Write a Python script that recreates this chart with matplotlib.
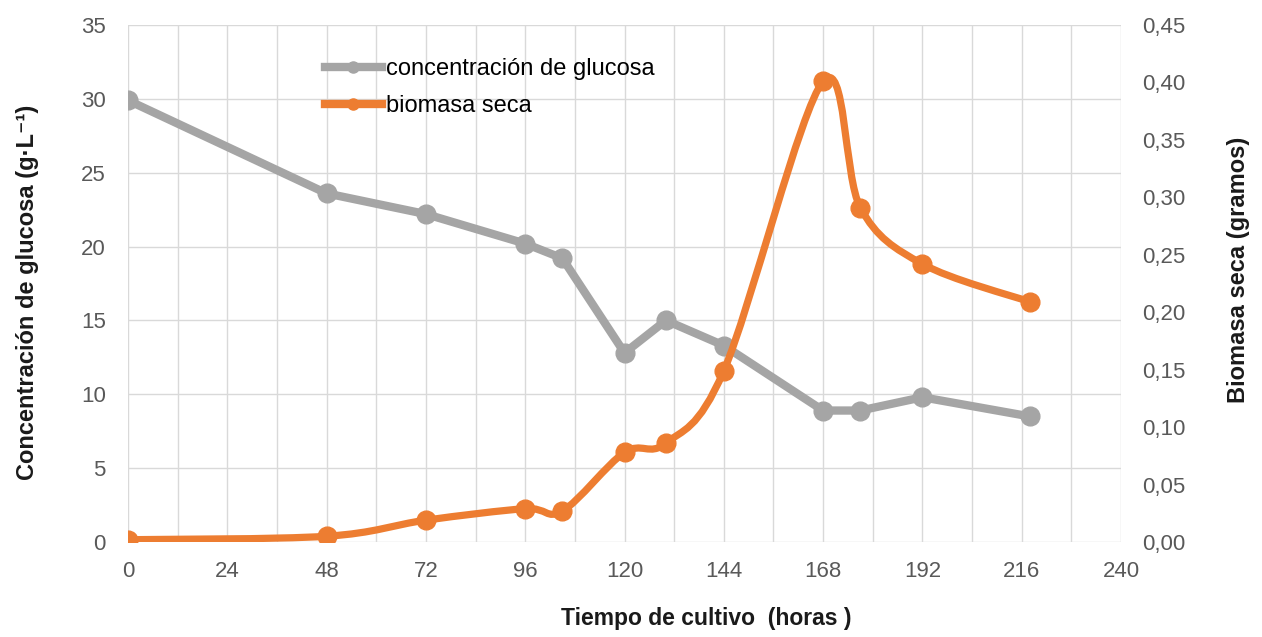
import matplotlib
matplotlib.use("Agg")
import matplotlib.pyplot as plt
from matplotlib.path import Path
from matplotlib.patches import PathPatch
from matplotlib.lines import Line2D
from matplotlib.ticker import MultipleLocator, FuncFormatter

plt.rcParams['font.family'] = ['Liberation Sans', 'DejaVu Sans']

# Data
tiempo = [0, 48, 72, 96, 105, 120, 130, 144, 168, 177, 192, 218]
glucosa = [29.9, 23.6, 22.2, 20.2, 19.2, 12.8, 15.0, 13.3, 8.9, 8.9, 9.8, 8.5]
biomasa = [0.002, 0.005, 0.019, 0.029, 0.027, 0.078, 0.086, 0.149, 0.401, 0.291, 0.242, 0.209]
x_ticks = [0, 24, 48, 72, 96, 120, 144, 168, 192, 216, 240]
label_glu = "concentración de glucosa"
label_bio = "biomasa seca"

GRAY = "#A5A5A5"
ORANGE = "#ED7D31"
GRID = "#D9D9D9"
TICK = "#595959"
LAB = "#1A1A1A"

W, H = 1262, 637
L, R, T, B = 128, 1121, 25, 542
fig = plt.figure(figsize=(W/100, H/100), dpi=100)
ax = fig.add_axes([L/W, 1-B/H, (R-L)/W, (B-T)/H])
ax2 = ax.twinx()

ax.set_xlim(0, 240)
ax.set_ylim(0, 35)
ax2.set_ylim(0, 0.45)

ax.xaxis.set_major_locator(MultipleLocator(24))
ax.xaxis.set_minor_locator(MultipleLocator(12))
ax.yaxis.set_major_locator(MultipleLocator(5))
ax2.yaxis.set_major_locator(MultipleLocator(0.05))
ax2.yaxis.set_major_formatter(FuncFormatter(lambda v, p: f"{v:.2f}".replace(".", ",")))

ax.grid(True, which='both', axis='x', color=GRID, lw=1)
ax.grid(True, which='major', axis='y', color=GRID, lw=1)
ax.set_axisbelow(True)
for a in (ax, ax2):
    for s in a.spines.values():
        s.set_visible(False)
    a.tick_params(which='both', length=0, labelsize=16, labelcolor=TICK)
ax.tick_params(axis='x', pad=14)
ax.tick_params(axis='y', pad=16)
ax2.tick_params(axis='y', pad=15.5)

# glucose (straight segments)
ax.plot(tiempo, glucosa, color=GRAY, lw=6, marker='o', ms=13.5, solid_joinstyle='round',
        solid_capstyle='round', zorder=3)

# biomass smoothed line (Bezier, Excel-like smoothing)
n = len(tiempo)
P = list(zip(tiempo, biomasa))
verts = [P[0]]
codes = [Path.MOVETO]
for i in range(n - 1):
    p0 = P[i - 1] if i > 0 else P[i]
    p1 = P[i]
    p2 = P[i + 1]
    p3 = P[i + 2] if i + 2 < n else P[i + 1]
    c1 = (p1[0] + (p2[0] - p0[0]) / 6, p1[1] + (p2[1] - p0[1]) / 6)
    c2 = (p2[0] - (p3[0] - p1[0]) / 6, p2[1] - (p3[1] - p1[1]) / 6)
    verts += [c1, c2, p2]
    codes += [Path.CURVE4, Path.CURVE4, Path.CURVE4]
patch = PathPatch(Path(verts, codes), facecolor='none', edgecolor=ORANGE, lw=5.2,
                  capstyle='round', joinstyle='round', zorder=3)
ax2.add_patch(patch)
ax2.plot(tiempo, biomasa, ls='none', marker='o', ms=13.5, color=ORANGE, zorder=4)

ax.set_xticks(x_ticks)

ax.set_xlabel("Tiempo de cultivo  (horas )", fontsize=16.5, fontweight='bold', color=LAB, va='center')
ax.xaxis.set_label_coords((706 - L)/(R - L), (B - 618)/(B - T))
ax.set_ylabel("Concentración de glucosa (g·L⁻¹)", fontsize=17, fontweight='bold', color=LAB, va='center')
ax.yaxis.set_label_coords((28 - L)/(R - L), (B - 292)/(B - T))
ax2.set_ylabel("Biomasa seca (gramos)", fontsize=17, fontweight='bold', color=LAB, va='center')
ax2.yaxis.set_label_coords((1238 - L)/(R - L), (B - 270)/(B - T))

handles = [Line2D([], [], color=GRAY, lw=6, marker='o', ms=8),
           Line2D([], [], color=ORANGE, lw=6, marker='o', ms=8)]
ax2.legend(handles, [label_glu, label_bio], loc='upper left',
           bbox_to_anchor=(325/W, 1-58/H), bbox_transform=fig.transFigure,
           frameon=False, fontsize=17, handlelength=2.4, handletextpad=0.2,
           labelspacing=0.65, borderpad=0, borderaxespad=0)

fig.savefig("out.png", dpi=100)
